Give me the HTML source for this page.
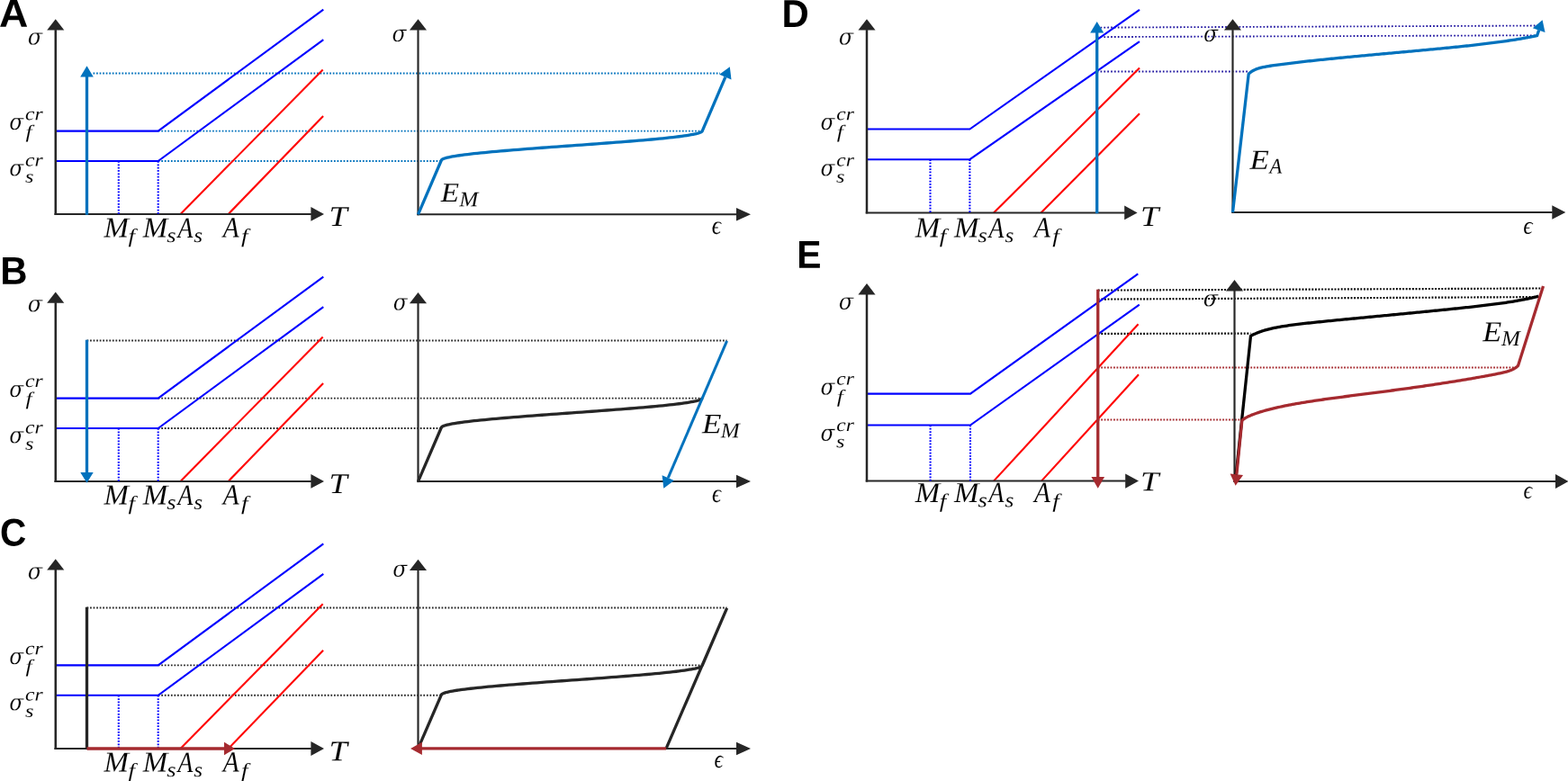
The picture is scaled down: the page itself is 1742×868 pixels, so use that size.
<!DOCTYPE html>
<html lang="en"><head><meta charset="utf-8"><title>Figure</title>
<style>html,body{margin:0;padding:0;background:#fff;}body{width:1742px;height:868px;overflow:hidden;}svg{display:block;}</style>
</head><body>
<svg width="1742" height="868" viewBox="0 0 1742 868">
<rect width="1742" height="868" fill="#fff"/>
<g>
<line x1="103.5" y1="81.45" x2="800" y2="81.45" stroke="#0072bd" stroke-width="1.9" stroke-dasharray="1.75 1.8"/>
<line x1="175.7" y1="145.6" x2="780.2" y2="145.6" stroke="#0072bd" stroke-width="1.9" stroke-dasharray="1.75 1.8"/>
<line x1="175.7" y1="179.05" x2="490.4" y2="179.05" stroke="#0072bd" stroke-width="1.9" stroke-dasharray="1.75 1.8"/>
<line x1="96.5" y1="378.45" x2="807.6" y2="378.45" stroke="#262626" stroke-width="1.9" stroke-dasharray="1.75 1.8"/>
<line x1="175.7" y1="442.6" x2="780.2" y2="442.6" stroke="#262626" stroke-width="1.9" stroke-dasharray="1.75 1.8"/>
<line x1="175.7" y1="476.05" x2="490.4" y2="476.05" stroke="#262626" stroke-width="1.9" stroke-dasharray="1.75 1.8"/>
<line x1="96.5" y1="675.55" x2="807.6" y2="675.55" stroke="#262626" stroke-width="1.9" stroke-dasharray="1.75 1.8"/>
<line x1="175.7" y1="739.35" x2="780.2" y2="739.35" stroke="#262626" stroke-width="1.9" stroke-dasharray="1.75 1.8"/>
<line x1="175.7" y1="772.8" x2="490.4" y2="772.8" stroke="#262626" stroke-width="1.9" stroke-dasharray="1.75 1.8"/>
<line x1="1218.7" y1="30.6" x2="1712" y2="28.5" stroke="#1f14a0" stroke-width="1.85" stroke-dasharray="1.7 2.15"/>
<line x1="1218.7" y1="41.1" x2="1705.5" y2="39.3" stroke="#1f14a0" stroke-width="1.85" stroke-dasharray="1.7 2.15"/>
<line x1="1218.7" y1="79.5" x2="1387.2" y2="79.5" stroke="#1f14a0" stroke-width="1.85" stroke-dasharray="1.7 2.15"/>
<line x1="1219.75" y1="322.6" x2="1712" y2="320.5" stroke="#000000" stroke-width="2.15" stroke-dasharray="1.9 1.7"/>
<line x1="1219.75" y1="332.6" x2="1705.5" y2="330.1" stroke="#000000" stroke-width="2.15" stroke-dasharray="1.9 1.7"/>
<line x1="1219.75" y1="370.9" x2="1389.5" y2="370.6" stroke="#000000" stroke-width="2.15" stroke-dasharray="1.9 1.7"/>
<line x1="1219.75" y1="408.4" x2="1683" y2="408.5" stroke="#a52a2f" stroke-width="2.0" stroke-dasharray="1.8 1.66"/>
<line x1="1219.75" y1="466.4" x2="1379.85" y2="466.5" stroke="#a52a2f" stroke-width="2.0" stroke-dasharray="1.8 1.66"/>
</g>
<g>
<path d="M61.75 145.6 L175.7 145.6 L359.3 10.7" fill="none" stroke="#0000ff" stroke-width="2.1" stroke-linejoin="miter"/>
<path d="M61.75 179.05 L175.7 179.05 L359.3 44.1" fill="none" stroke="#0000ff" stroke-width="2.1" stroke-linejoin="miter"/>
<line x1="200.5" y1="237.9" x2="358.7" y2="77.4" stroke="#ff0000" stroke-width="2.1"/>
<line x1="253.7" y1="237.9" x2="359.1" y2="129" stroke="#ff0000" stroke-width="2.1"/>
<path d="M61.75 442.6 L175.7 442.6 L359.3 307.7" fill="none" stroke="#0000ff" stroke-width="2.1" stroke-linejoin="miter"/>
<path d="M61.75 476.05 L175.7 476.05 L359.3 341.1" fill="none" stroke="#0000ff" stroke-width="2.1" stroke-linejoin="miter"/>
<line x1="200.5" y1="534.9" x2="358.7" y2="374.4" stroke="#ff0000" stroke-width="2.1"/>
<line x1="253.7" y1="534.9" x2="359.1" y2="426" stroke="#ff0000" stroke-width="2.1"/>
<path d="M61.75 739.35 L175.7 739.35 L359.3 604.45" fill="none" stroke="#0000ff" stroke-width="2.1" stroke-linejoin="miter"/>
<path d="M61.75 772.8 L175.7 772.8 L359.3 637.85" fill="none" stroke="#0000ff" stroke-width="2.1" stroke-linejoin="miter"/>
<line x1="200.5" y1="832" x2="358.7" y2="671.15" stroke="#ff0000" stroke-width="2.1"/>
<line x1="253.7" y1="832" x2="359.1" y2="722.75" stroke="#ff0000" stroke-width="2.1"/>
<path d="M963 143.5 L1077.4 143.5 L1266 10.9" fill="none" stroke="#0000ff" stroke-width="2.1" stroke-linejoin="miter"/>
<path d="M963 177.2 L1077.4 177.2 L1266 46.1" fill="none" stroke="#0000ff" stroke-width="2.1" stroke-linejoin="miter"/>
<line x1="1104" y1="236.4" x2="1266" y2="75.5" stroke="#ff0000" stroke-width="2.1"/>
<line x1="1156.5" y1="236.4" x2="1266" y2="126.3" stroke="#ff0000" stroke-width="2.1"/>
<path d="M963 437.6 L1078 437.6 L1264.3 304.4" fill="none" stroke="#0000ff" stroke-width="2.1" stroke-linejoin="miter"/>
<path d="M963 472.5 L1078 472.5 L1265.8 338.6" fill="none" stroke="#0000ff" stroke-width="2.1" stroke-linejoin="miter"/>
<line x1="1104" y1="534.6" x2="1264.6" y2="360.3" stroke="#ff0000" stroke-width="2.1"/>
<line x1="1157" y1="534.6" x2="1265" y2="416.3" stroke="#ff0000" stroke-width="2.1"/>
</g>
<g>
<line x1="61.75" y1="33.1" x2="61.75" y2="238.9" stroke="#262626" stroke-width="2.5"/>
<line x1="60.5" y1="237.9" x2="345.9" y2="237.9" stroke="#262626" stroke-width="2.0"/>
<polygon points="61.75,21.3 52.2,33.6 71.3,33.6" fill="#262626"/>
<polygon points="360,237.9 345.4,230 345.4,245.8" fill="#262626"/>
<line x1="464.5" y1="33.1" x2="464.5" y2="239.3" stroke="#262626" stroke-width="2.15"/>
<line x1="463.43" y1="238.3" x2="818.5" y2="238.3" stroke="#262626" stroke-width="2.0"/>
<polygon points="464.5,21.3 454.95,33.6 474.05,33.6" fill="#262626"/>
<polygon points="834,238.3 818,231.05 818,245.55" fill="#262626"/>
<line x1="61.75" y1="336.2" x2="61.75" y2="535.9" stroke="#262626" stroke-width="2.5"/>
<line x1="60.5" y1="534.9" x2="345.9" y2="534.9" stroke="#262626" stroke-width="2.0"/>
<polygon points="61.75,324.4 52.2,336.7 71.3,336.7" fill="#262626"/>
<polygon points="360,534.9 345.4,527 345.4,542.8" fill="#262626"/>
<line x1="464.5" y1="336.7" x2="464.5" y2="536.1" stroke="#262626" stroke-width="2.15"/>
<line x1="463.43" y1="535.1" x2="818.5" y2="535.1" stroke="#262626" stroke-width="2.0"/>
<polygon points="464.5,324.9 454.95,337.2 474.05,337.2" fill="#262626"/>
<polygon points="834,535.1 818,527.85 818,542.35" fill="#262626"/>
<line x1="61.75" y1="633" x2="61.75" y2="833" stroke="#262626" stroke-width="2.5"/>
<line x1="60.5" y1="832" x2="345.9" y2="832" stroke="#262626" stroke-width="2.0"/>
<polygon points="61.75,621.2 52.2,633.5 71.3,633.5" fill="#262626"/>
<polygon points="360,832 345.4,824.1 345.4,839.9" fill="#262626"/>
<line x1="464.5" y1="633.6" x2="464.5" y2="832.95" stroke="#262626" stroke-width="2.15"/>
<line x1="463.43" y1="831.95" x2="818.5" y2="831.95" stroke="#262626" stroke-width="2.0"/>
<polygon points="464.5,621.8 454.95,634.1 474.05,634.1" fill="#262626"/>
<polygon points="834,831.95 818,824.7 818,839.2" fill="#262626"/>
<line x1="963" y1="33.1" x2="963" y2="237.4" stroke="#262626" stroke-width="2.5"/>
<line x1="961.75" y1="236.4" x2="1249.7" y2="236.4" stroke="#262626" stroke-width="2.0"/>
<polygon points="963,21.3 953.45,33.6 972.55,33.6" fill="#262626"/>
<polygon points="1263.6,236.4 1249.2,228.5 1249.2,244.3" fill="#262626"/>
<line x1="1369.5" y1="33.1" x2="1369.5" y2="237" stroke="#262626" stroke-width="2.15"/>
<line x1="1368.42" y1="236" x2="1724.8" y2="236" stroke="#262626" stroke-width="2.0"/>
<polygon points="1369.5,21.3 1359.95,33.6 1379.05,33.6" fill="#262626"/>
<polygon points="1739.3,236 1724.3,228.25 1724.3,243.75" fill="#262626"/>
<line x1="963" y1="326.9" x2="963" y2="535.6" stroke="#262626" stroke-width="2.5"/>
<line x1="961.75" y1="534.6" x2="1250.7" y2="534.6" stroke="#262626" stroke-width="2.0"/>
<polygon points="963,315.1 953.45,327.4 972.55,327.4" fill="#262626"/>
<polygon points="1265,534.6 1250.2,526.4 1250.2,542.8" fill="#262626"/>
<line x1="1371.5" y1="322.9" x2="1371.5" y2="536.05" stroke="#262626" stroke-width="2.15"/>
<line x1="1370.42" y1="535.05" x2="1728.5" y2="535.05" stroke="#262626" stroke-width="2.0"/>
<polygon points="1371.5,311.1 1361.95,323.4 1381.05,323.4" fill="#262626"/>
<polygon points="1742.5,535.05 1728,527.05 1728,543.05" fill="#262626"/>
</g>
<g>
<line x1="131.8" y1="179.05" x2="131.8" y2="238.2" stroke="#0000ff" stroke-width="2.1" stroke-dasharray="1.75 1.6"/>
<line x1="175.7" y1="179.05" x2="175.7" y2="238.2" stroke="#0000ff" stroke-width="2.1" stroke-dasharray="1.75 1.6"/>
<line x1="131.8" y1="476.05" x2="131.8" y2="535.2" stroke="#0000ff" stroke-width="2.1" stroke-dasharray="1.75 1.6"/>
<line x1="175.7" y1="476.05" x2="175.7" y2="535.2" stroke="#0000ff" stroke-width="2.1" stroke-dasharray="1.75 1.6"/>
<line x1="131.8" y1="772.8" x2="131.8" y2="832.3" stroke="#0000ff" stroke-width="2.1" stroke-dasharray="1.75 1.6"/>
<line x1="175.7" y1="772.8" x2="175.7" y2="832.3" stroke="#0000ff" stroke-width="2.1" stroke-dasharray="1.75 1.6"/>
<line x1="1033.5" y1="177.2" x2="1033.5" y2="236.7" stroke="#0000ff" stroke-width="2.1" stroke-dasharray="1.75 1.6"/>
<line x1="1077.4" y1="177.2" x2="1077.4" y2="236.7" stroke="#0000ff" stroke-width="2.1" stroke-dasharray="1.75 1.6"/>
<line x1="1033.6" y1="472.5" x2="1033.6" y2="534.9" stroke="#0000ff" stroke-width="2.1" stroke-dasharray="1.75 1.6"/>
<line x1="1078" y1="472.5" x2="1078" y2="534.9" stroke="#0000ff" stroke-width="2.1" stroke-dasharray="1.75 1.6"/>
</g>
<g>
<line x1="96.5" y1="238.7" x2="96.5" y2="85" stroke="#0072bd" stroke-width="3.3"/>
<polygon points="96.5,73.2 89.2,85.5 103.8,85.5" fill="#0072bd"/>
<polygon points="810.8,74.2 812.53,88.55 799.21,82.82" fill="#0072bd"/>
<path d="M464.5 238.3 L490.4 178 L490.68 177.6 L491.17 177.19 L491.88 176.79 L492.79 176.38 L493.92 175.98 L495.25 175.58 L496.79 175.17 L498.54 174.77 L500.49 174.37 L502.64 173.96 L504.98 173.56 L507.52 173.16 L510.25 172.75 L513.16 172.35 L516.25 171.94 L519.52 171.54 L522.97 171.14 L526.58 170.73 L530.35 170.33 L534.28 169.93 L538.36 169.52 L542.58 169.12 L546.94 168.71 L551.43 168.31 L556.05 167.91 L560.79 167.5 L565.63 167.1 L570.58 166.69 L575.63 166.29 L580.77 165.89 L585.99 165.48 L591.28 165.08 L596.64 164.68 L602.05 164.27 L607.52 163.87 L613.02 163.46 L618.56 163.06 L624.13 162.66 L629.71 162.25 L635.3 161.85 L640.89 161.45 L646.47 161.04 L652.04 160.64 L657.58 160.23 L663.08 159.83 L668.55 159.43 L673.96 159.02 L679.32 158.62 L684.61 158.22 L689.83 157.81 L694.97 157.41 L700.02 157 L704.97 156.6 L709.81 156.2 L714.55 155.79 L719.17 155.39 L723.66 154.99 L728.02 154.58 L732.24 154.18 L736.32 153.77 L740.25 153.37 L744.02 152.97 L747.63 152.56 L751.08 152.16 L754.35 151.76 L757.44 151.35 L760.35 150.95 L763.08 150.54 L765.62 150.14 L767.96 149.74 L770.11 149.33 L772.06 148.93 L773.81 148.53 L775.35 148.12 L776.68 147.72 L777.81 147.31 L778.72 146.91 L779.43 146.51 L779.92 146.1 L780.2 145.7 L805.87 85.69" fill="none" stroke="#0072bd" stroke-width="3.3" stroke-linejoin="round"/>
<path d="M464.5 535.1 L490.4 475 L490.68 474.6 L491.17 474.19 L491.88 473.79 L492.79 473.38 L493.92 472.98 L495.26 472.58 L496.8 472.17 L498.54 471.77 L500.49 471.37 L502.64 470.96 L504.98 470.56 L507.52 470.15 L510.25 469.75 L513.16 469.35 L516.26 468.94 L519.53 468.54 L522.97 468.14 L526.58 467.73 L530.35 467.33 L534.28 466.93 L538.36 466.52 L542.58 466.12 L546.94 465.71 L551.44 465.31 L556.05 464.91 L560.79 464.5 L565.64 464.1 L570.59 463.69 L575.64 463.29 L580.77 462.89 L585.99 462.48 L591.28 462.08 L596.64 461.68 L602.05 461.27 L607.52 460.87 L613.03 460.46 L618.56 460.06 L624.13 459.66 L629.71 459.25 L635.3 458.85 L640.89 458.45 L646.47 458.04 L652.04 457.64 L657.57 457.24 L663.08 456.83 L668.55 456.43 L673.96 456.02 L679.32 455.62 L684.61 455.22 L689.83 454.81 L694.96 454.41 L700.01 454 L704.96 453.6 L709.81 453.2 L714.55 452.79 L719.16 452.39 L723.66 451.99 L728.02 451.58 L732.24 451.18 L736.32 450.77 L740.25 450.37 L744.02 449.97 L747.63 449.56 L751.07 449.16 L754.34 448.76 L757.44 448.35 L760.35 447.95 L763.08 447.54 L765.62 447.14 L767.96 446.74 L770.11 446.33 L772.06 445.93 L773.8 445.53 L775.34 445.12 L776.68 444.72 L777.81 444.31 L778.72 443.91 L779.43 443.51 L779.92 443.1 L780.2 442.7" fill="none" stroke="#262626" stroke-width="3.3" stroke-linejoin="round"/>
<line x1="96.5" y1="377.65" x2="96.5" y2="525.9" stroke="#0072bd" stroke-width="3.3"/>
<polygon points="96.5,536.7 89.3,524.9 103.7,524.9" fill="#0072bd"/>
<polygon points="737.3,542.7 735.57,528.35 748.89,534.07" fill="#0072bd"/>
<path d="M807.6 378.85 L742.23 531.21" fill="none" stroke="#0072bd" stroke-width="3.0" stroke-linejoin="round"/>
<path d="M464.5 831.95 L490.4 772.1 L490.68 771.7 L491.17 771.29 L491.88 770.89 L492.8 770.49 L493.92 770.08 L495.26 769.68 L496.8 769.27 L498.55 768.87 L500.5 768.47 L502.65 768.06 L504.99 767.66 L507.53 767.25 L510.26 766.85 L513.17 766.45 L516.26 766.04 L519.53 765.64 L522.98 765.24 L526.59 764.83 L530.36 764.43 L534.29 764.02 L538.37 763.62 L542.59 763.22 L546.95 762.81 L551.44 762.41 L556.06 762.01 L560.8 761.6 L565.64 761.2 L570.59 760.79 L575.64 760.39 L580.78 759.99 L585.99 759.58 L591.29 759.18 L596.64 758.78 L602.06 758.37 L607.52 757.97 L613.03 757.57 L618.57 757.16 L624.13 756.76 L629.71 756.35 L635.3 755.95 L640.89 755.55 L646.47 755.14 L652.03 754.74 L657.57 754.34 L663.08 753.93 L668.54 753.53 L673.96 753.12 L679.31 752.72 L684.61 752.32 L689.82 751.91 L694.96 751.51 L700.01 751.11 L704.96 750.7 L709.8 750.3 L714.54 749.89 L719.16 749.49 L723.65 749.09 L728.01 748.68 L732.23 748.28 L736.31 747.88 L740.24 747.47 L744.01 747.07 L747.62 746.66 L751.07 746.26 L754.34 745.86 L757.43 745.45 L760.34 745.05 L763.07 744.64 L765.61 744.24 L767.95 743.84 L770.1 743.43 L772.05 743.03 L773.8 742.63 L775.34 742.22 L776.68 741.82 L777.8 741.41 L778.72 741.01 L779.43 740.61 L779.92 740.2 L780.2 739.8 L807.6 675.95 L740.09 831.95" fill="none" stroke="#262626" stroke-width="3.3" stroke-linejoin="miter"/>
<line x1="96.5" y1="832.8" x2="96.5" y2="674.75" stroke="#262626" stroke-width="3.3"/>
<line x1="96.5" y1="832" x2="250" y2="832" stroke="#a52a2f" stroke-width="3.3"/>
<polygon points="261,832 249,824.8 249,839.2" fill="#a52a2f"/>
<line x1="740.09" y1="831.95" x2="468" y2="831.95" stroke="#a52a2f" stroke-width="3.3"/>
<polygon points="456.1,831.95 468.9,824.85 468.9,839.05" fill="#a52a2f"/>
<line x1="1218.7" y1="237.2" x2="1218.7" y2="36" stroke="#0072bd" stroke-width="3.3"/>
<polygon points="1218.7,24 1211.2,36.6 1226.2,36.6" fill="#0072bd"/>
<polygon points="1713.6,22.2 1716.54,35.91 1702.83,31.18" fill="#0072bd"/>
<path d="M1369.5 236 L1387.2 82.2 L1387.7 81.71 L1388.2 81.25 L1388.7 80.82 L1389.2 80.42 L1389.2 80.42 L1389.7 80.04 L1390.2 79.68 L1390.7 79.34 L1391.2 79.03 L1391.21 79.02 L1391.7 78.73 L1392.2 78.44 L1392.7 78.18 L1393.2 77.92 L1393.21 77.92 L1393.7 77.68 L1394.2 77.46 L1394.7 77.24 L1395.2 77.04 L1395.21 77.03 L1395.7 76.84 L1396.2 76.65 L1396.7 76.48 L1397.2 76.31 L1397.21 76.3 L1397.7 76.14 L1398.2 75.99 L1398.7 75.84 L1399.2 75.7 L1399.22 75.69 L1401.22 75.17 L1403.22 74.71 L1405.22 74.3 L1407.23 73.92 L1409.23 73.58 L1411.23 73.25 L1413.23 72.94 L1415.24 72.65 L1417.24 72.36 L1419.24 72.09 L1421.24 71.82 L1423.25 71.55 L1425.25 71.29 L1427.25 71.04 L1429.25 70.79 L1431.26 70.54 L1433.26 70.29 L1435.26 70.05 L1437.26 69.81 L1439.27 69.58 L1441.27 69.34 L1443.27 69.11 L1445.27 68.88 L1447.28 68.65 L1449.28 68.43 L1451.28 68.2 L1453.28 67.98 L1455.29 67.76 L1457.29 67.55 L1459.29 67.33 L1461.29 67.11 L1463.3 66.9 L1465.3 66.69 L1467.3 66.48 L1469.3 66.27 L1471.31 66.06 L1473.31 65.86 L1475.31 65.65 L1477.31 65.45 L1479.32 65.25 L1481.32 65.05 L1483.32 64.85 L1485.32 64.65 L1487.33 64.45 L1489.33 64.26 L1491.33 64.06 L1493.33 63.87 L1495.34 63.67 L1497.34 63.48 L1499.34 63.29 L1501.34 63.1 L1503.35 62.91 L1505.35 62.72 L1507.35 62.53 L1509.35 62.34 L1511.36 62.15 L1513.36 61.96 L1515.36 61.78 L1517.36 61.59 L1519.37 61.41 L1521.37 61.22 L1523.37 61.04 L1525.37 60.85 L1527.38 60.67 L1529.38 60.48 L1531.38 60.3 L1533.38 60.12 L1535.38 59.94 L1537.39 59.75 L1539.39 59.57 L1541.39 59.39 L1543.39 59.21 L1545.4 59.02 L1547.4 58.84 L1549.4 58.66 L1551.4 58.48 L1553.41 58.3 L1555.41 58.12 L1557.41 57.93 L1559.41 57.75 L1561.42 57.57 L1563.42 57.39 L1565.42 57.21 L1567.42 57.02 L1569.43 56.84 L1571.43 56.66 L1573.43 56.47 L1575.43 56.29 L1577.44 56.1 L1579.44 55.92 L1581.44 55.73 L1583.44 55.55 L1585.45 55.36 L1587.45 55.17 L1589.45 54.98 L1591.45 54.79 L1593.46 54.61 L1595.46 54.41 L1597.46 54.22 L1599.46 54.03 L1601.47 53.84 L1603.47 53.64 L1605.47 53.45 L1607.47 53.25 L1609.48 53.05 L1611.48 52.85 L1613.48 52.65 L1615.48 52.45 L1617.49 52.25 L1619.49 52.04 L1621.49 51.84 L1623.49 51.63 L1625.5 51.42 L1627.5 51.2 L1629.5 50.99 L1631.5 50.77 L1633.51 50.55 L1635.51 50.33 L1637.51 50.11 L1639.51 49.88 L1641.52 49.66 L1643.52 49.43 L1645.52 49.19 L1647.52 48.96 L1649.53 48.72 L1651.53 48.47 L1653.53 48.23 L1655.53 47.98 L1657.54 47.72 L1659.54 47.46 L1661.54 47.2 L1663.54 46.94 L1665.55 46.67 L1667.55 46.39 L1669.55 46.12 L1671.55 45.83 L1673.56 45.54 L1675.56 45.25 L1677.56 44.95 L1679.56 44.64 L1681.57 44.33 L1683.57 44.01 L1685.57 43.69 L1687.57 43.36 L1689.58 43.02 L1691.58 42.68 L1693.58 42.32 L1695.59 41.96 L1695.6 41.96 L1696.1 41.87 L1696.6 41.78 L1697.1 41.68 L1697.59 41.59 L1697.6 41.59 L1698.1 41.5 L1698.6 41.4 L1699.1 41.31 L1699.59 41.22 L1699.6 41.21 L1700.1 41.12 L1700.6 41.02 L1701.1 40.93 L1701.59 40.83 L1701.6 40.83 L1702.1 40.73 L1702.6 40.63 L1703.1 40.53 L1703.59 40.43 L1703.6 40.43 L1704.1 40.33 L1704.6 40.23 L1705.1 40.13 L1705.6 40.03 L1705.6 40.03 L1706.1 39.92 L1706.6 39.82 L1707.1 39.72 L1707.6 39.61 L1709.69 33.54" fill="none" stroke="#0072bd" stroke-width="3.3" stroke-linejoin="round"/>
<line x1="1219.75" y1="321.7" x2="1219.75" y2="531" stroke="#a52a2f" stroke-width="3.3"/>
<polygon points="1219.75,542.8 1212.45,530.1 1227.05,530.1" fill="#a52a2f"/>
<path d="M1372.4 535.05 L1389.5 373.39 L1390 373.12 L1390.5 372.85 L1391 372.59 L1391.5 372.34 L1391.51 372.33 L1392 372.09 L1392.5 371.84 L1393 371.6 L1393.5 371.37 L1393.52 371.36 L1394 371.14 L1394.5 370.91 L1395 370.69 L1395.5 370.48 L1395.53 370.46 L1396 370.27 L1396.5 370.06 L1397 369.86 L1397.5 369.66 L1397.55 369.64 L1398 369.46 L1398.5 369.27 L1399 369.09 L1399.5 368.9 L1399.56 368.88 L1400 368.72 L1400.5 368.55 L1401 368.37 L1401.5 368.2 L1401.57 368.18 L1403.58 367.53 L1405.59 366.93 L1407.6 366.37 L1409.61 365.85 L1411.62 365.36 L1413.64 364.9 L1415.65 364.47 L1417.66 364.07 L1419.67 363.68 L1421.68 363.32 L1423.69 362.97 L1425.7 362.64 L1427.72 362.33 L1429.73 362.02 L1431.74 361.73 L1433.75 361.45 L1435.76 361.17 L1437.77 360.91 L1439.78 360.65 L1441.79 360.4 L1443.81 360.16 L1445.82 359.92 L1447.83 359.69 L1449.84 359.46 L1451.85 359.23 L1453.86 359.01 L1455.87 358.79 L1457.88 358.58 L1459.9 358.36 L1461.91 358.15 L1463.92 357.94 L1465.93 357.74 L1467.94 357.53 L1469.95 357.33 L1471.96 357.13 L1473.98 356.92 L1475.99 356.72 L1478 356.52 L1480.01 356.33 L1482.02 356.13 L1484.03 355.93 L1486.04 355.73 L1488.05 355.54 L1490.07 355.34 L1492.08 355.15 L1494.09 354.95 L1496.1 354.76 L1498.11 354.57 L1500.12 354.37 L1502.13 354.18 L1504.15 353.99 L1506.16 353.79 L1508.17 353.6 L1510.18 353.41 L1512.19 353.21 L1514.2 353.02 L1516.21 352.83 L1518.22 352.64 L1520.24 352.44 L1522.25 352.25 L1524.26 352.06 L1526.27 351.87 L1528.28 351.68 L1530.29 351.48 L1532.3 351.29 L1534.32 351.1 L1536.33 350.91 L1538.34 350.71 L1540.35 350.52 L1542.36 350.33 L1544.37 350.14 L1546.38 349.94 L1548.39 349.75 L1550.41 349.56 L1552.42 349.36 L1554.43 349.17 L1556.44 348.98 L1558.45 348.78 L1560.46 348.59 L1562.47 348.4 L1564.48 348.2 L1566.5 348.01 L1568.51 347.81 L1570.52 347.62 L1572.53 347.42 L1574.54 347.23 L1576.55 347.03 L1578.56 346.84 L1580.58 346.64 L1582.59 346.44 L1584.6 346.25 L1586.61 346.05 L1588.62 345.85 L1590.63 345.65 L1592.64 345.45 L1594.65 345.25 L1596.67 345.05 L1598.68 344.85 L1600.69 344.65 L1602.7 344.45 L1604.71 344.25 L1606.72 344.04 L1608.73 343.84 L1610.75 343.63 L1612.76 343.43 L1614.77 343.22 L1616.78 343.01 L1618.79 342.8 L1620.8 342.59 L1622.81 342.38 L1624.82 342.17 L1626.84 341.95 L1628.85 341.73 L1630.86 341.52 L1632.87 341.3 L1634.88 341.07 L1636.89 340.85 L1638.9 340.62 L1640.92 340.39 L1642.93 340.16 L1644.94 339.93 L1646.95 339.69 L1648.96 339.45 L1650.97 339.21 L1652.98 338.96 L1654.99 338.71 L1657.01 338.46 L1659.02 338.2 L1661.03 337.94 L1663.04 337.67 L1665.05 337.4 L1667.06 337.13 L1669.07 336.84 L1671.08 336.55 L1673.1 336.26 L1675.11 335.96 L1677.12 335.65 L1679.13 335.33 L1681.14 335.01 L1683.15 334.67 L1685.16 334.33 L1687.18 333.98 L1689.19 333.61 L1691.2 333.24 L1693.21 332.85 L1695.22 332.45 L1697.23 332.04 L1697.3 332.02 L1697.8 331.92 L1698.3 331.81 L1698.8 331.7 L1699.24 331.61 L1699.3 331.6 L1699.8 331.49 L1700.3 331.38 L1700.8 331.27 L1701.25 331.17 L1701.3 331.16 L1701.8 331.04 L1702.3 330.93 L1702.8 330.81 L1703.27 330.71 L1703.3 330.7 L1703.8 330.58 L1704.3 330.46 L1704.8 330.34 L1705.28 330.23 L1705.3 330.22 L1705.8 330.1 L1706.3 329.98 L1706.8 329.85 L1707.29 329.73 L1707.3 329.73 L1707.8 329.6 L1708.3 329.48 L1708.8 329.35 L1709.3 329.22" fill="none" stroke="#000000" stroke-width="3.3" stroke-linejoin="round"/>
<polygon points="1372.6,539.7 1366.63,526.54 1381.06,527.98" fill="#a52a2f"/>
<path d="M1714.5 318 L1686.6 406.3 L1686.1 406.8 L1685.6 407.26 L1685.1 407.69 L1684.6 408.09 L1684.6 408.1 L1684.1 408.47 L1683.6 408.82 L1683.1 409.15 L1682.6 409.47 L1682.59 409.47 L1682.1 409.76 L1681.6 410.04 L1681.1 410.3 L1680.6 410.55 L1680.59 410.56 L1680.1 410.79 L1679.6 411.01 L1679.1 411.23 L1678.6 411.43 L1678.58 411.44 L1678.1 411.63 L1677.6 411.81 L1677.1 411.99 L1676.6 412.17 L1676.58 412.17 L1676.1 412.33 L1675.6 412.49 L1675.1 412.65 L1674.6 412.8 L1674.57 412.81 L1672.57 413.37 L1670.56 413.87 L1668.56 414.34 L1666.55 414.79 L1664.55 415.21 L1662.54 415.62 L1660.54 416.02 L1658.53 416.41 L1656.53 416.79 L1654.52 417.17 L1652.52 417.54 L1650.51 417.91 L1648.51 418.28 L1646.5 418.64 L1644.5 419 L1642.49 419.36 L1640.49 419.71 L1638.48 420.06 L1636.48 420.41 L1634.47 420.76 L1632.47 421.1 L1630.46 421.44 L1628.46 421.78 L1626.45 422.12 L1624.45 422.45 L1622.44 422.79 L1620.44 423.12 L1618.43 423.44 L1616.43 423.77 L1614.42 424.09 L1612.42 424.42 L1610.41 424.74 L1608.41 425.05 L1606.4 425.37 L1604.4 425.68 L1602.39 425.99 L1600.39 426.3 L1598.38 426.61 L1596.38 426.92 L1594.37 427.22 L1592.37 427.52 L1590.36 427.82 L1588.36 428.12 L1586.35 428.41 L1584.35 428.71 L1582.35 429 L1580.34 429.29 L1578.34 429.58 L1576.33 429.87 L1574.33 430.16 L1572.32 430.44 L1570.32 430.72 L1568.31 431 L1566.31 431.28 L1564.3 431.56 L1562.3 431.84 L1560.29 432.11 L1558.29 432.39 L1556.28 432.66 L1554.28 432.93 L1552.27 433.2 L1550.27 433.47 L1548.26 433.74 L1546.26 434.01 L1544.25 434.27 L1542.25 434.54 L1540.24 434.8 L1538.24 435.07 L1536.23 435.33 L1534.23 435.59 L1532.22 435.85 L1530.22 436.11 L1528.21 436.37 L1526.21 436.63 L1524.2 436.89 L1522.2 437.14 L1520.19 437.4 L1518.19 437.66 L1516.18 437.92 L1514.18 438.17 L1512.17 438.43 L1510.17 438.69 L1508.16 438.95 L1506.16 439.2 L1504.15 439.46 L1502.15 439.72 L1500.14 439.98 L1498.14 440.24 L1496.13 440.5 L1494.13 440.76 L1492.12 441.02 L1490.12 441.28 L1488.11 441.55 L1486.11 441.81 L1484.1 442.08 L1482.1 442.35 L1480.1 442.62 L1478.09 442.89 L1476.09 443.16 L1474.08 443.44 L1472.08 443.72 L1470.07 444 L1468.07 444.29 L1466.06 444.58 L1464.06 444.87 L1462.05 445.16 L1460.05 445.46 L1458.04 445.76 L1456.04 446.07 L1454.03 446.38 L1452.03 446.7 L1450.02 447.02 L1448.02 447.34 L1446.01 447.68 L1444.01 448.02 L1442 448.36 L1440 448.71 L1437.99 449.07 L1435.99 449.44 L1433.98 449.81 L1431.98 450.19 L1429.97 450.58 L1427.97 450.98 L1425.96 451.39 L1423.96 451.81 L1421.95 452.24 L1419.95 452.69 L1417.94 453.14 L1415.94 453.61 L1413.93 454.09 L1411.93 454.59 L1409.92 455.1 L1407.92 455.63 L1405.91 456.17 L1403.91 456.74 L1401.9 457.32 L1399.9 457.93 L1397.89 458.57 L1395.89 459.24 L1393.88 459.94 L1391.88 460.69 L1391.85 460.7 L1391.35 460.9 L1390.85 461.1 L1390.35 461.3 L1389.87 461.5 L1389.85 461.51 L1389.35 461.72 L1388.85 461.94 L1388.35 462.16 L1387.87 462.38 L1387.85 462.39 L1387.35 462.62 L1386.85 462.86 L1386.35 463.11 L1385.86 463.35 L1385.85 463.36 L1385.35 463.62 L1384.85 463.89 L1384.35 464.16 L1383.86 464.45 L1383.85 464.45 L1383.35 464.75 L1382.85 465.06 L1382.35 465.38 L1381.85 465.71 L1381.85 465.71 L1381.35 466.06 L1380.85 466.42 L1380.35 466.8 L1379.85 467.2 L1373.84 527.26" fill="none" stroke="#a52a2f" stroke-width="3.3" stroke-linejoin="round"/>
</g>
<g>
<text transform="translate(30.65 49.44) rotate(0.03) scale(0.944 1)" font-size="25.32" font-family="'DejaVu Serif', 'Liberation Serif', serif" font-style="italic" fill="#000" stroke="#fff" stroke-width="0.21">σ</text>
<text transform="translate(10.18 144.05) rotate(0.03) scale(0.928 1)" font-size="24.94" font-family="'DejaVu Serif', 'Liberation Serif', serif" font-style="italic" fill="#000" stroke="#fff" stroke-width="0.22">σ</text>
<text transform="translate(28.07 133.2) rotate(0.03) scale(1.158 1)" font-size="20.38" font-family="'Liberation Serif', serif" font-style="italic" fill="#000" stroke="#fff" stroke-width="0.07">cr</text>
<text transform="translate(28.54 153.19) rotate(0.03) scale(1.220 1)" font-size="20.72" font-family="'Liberation Serif', serif" font-style="italic" fill="#000" stroke="#fff" stroke-width="0.07">f</text>
<text transform="translate(10.18 195.35) rotate(0.03) scale(0.928 1)" font-size="24.94" font-family="'DejaVu Serif', 'Liberation Serif', serif" font-style="italic" fill="#000" stroke="#fff" stroke-width="0.22">σ</text>
<text transform="translate(28.07 184.5) rotate(0.03) scale(1.158 1)" font-size="20.38" font-family="'Liberation Serif', serif" font-style="italic" fill="#000" stroke="#fff" stroke-width="0.07">cr</text>
<text transform="translate(27.88 202.81) rotate(0.03) scale(1.220 1)" font-size="19.96" font-family="'Liberation Serif', serif" font-style="italic" fill="#000" stroke="#fff" stroke-width="0.07">s</text>
<text transform="translate(115.59 263.6) rotate(0.03) scale(1.034 1)" font-size="31.92" font-family="'Liberation Serif', serif" font-style="italic" fill="#000" stroke="#fff" stroke-width="0.08">M</text>
<text transform="translate(142.59 269.59) rotate(0.03) scale(1.220 1)" font-size="22.14" font-family="'Liberation Serif', serif" font-style="italic" fill="#000" stroke="#fff" stroke-width="0.07">f</text>
<text transform="translate(158.79 263.6) rotate(0.03) scale(1.034 1)" font-size="31.92" font-family="'Liberation Serif', serif" font-style="italic" fill="#000" stroke="#fff" stroke-width="0.08">M</text>
<text transform="translate(185.18 268.88) rotate(0.03) scale(1.171 1)" font-size="22.66" font-family="'Liberation Serif', serif" font-style="italic" fill="#000" stroke="#fff" stroke-width="0.07">s</text>
<text transform="translate(197.41 263.6) rotate(0.03) scale(0.853 1)" font-size="32.42" font-family="'Liberation Serif', serif" font-style="italic" fill="#000" stroke="#fff" stroke-width="0.09">A</text>
<text transform="translate(215.29 268.88) rotate(0.03) scale(1.120 1)" font-size="22.66" font-family="'Liberation Serif', serif" font-style="italic" fill="#000" stroke="#fff" stroke-width="0.07">s</text>
<text transform="translate(247.7 263.6) rotate(0.03) scale(0.904 1)" font-size="32.42" font-family="'Liberation Serif', serif" font-style="italic" fill="#000" stroke="#fff" stroke-width="0.09">A</text>
<text transform="translate(267.99 269.59) rotate(0.03) scale(1.220 1)" font-size="22.14" font-family="'Liberation Serif', serif" font-style="italic" fill="#000" stroke="#fff" stroke-width="0.07">f</text>
<text transform="translate(365.61 251.1) rotate(0.03) scale(1.145 1)" font-size="31.92" font-family="'Liberation Serif', serif" font-style="italic" fill="#000" stroke="#fff" stroke-width="0.07">T</text>
<text transform="translate(435.57 46.04) rotate(0.03) scale(0.919 1)" font-size="25.51" font-family="'DejaVu Serif', 'Liberation Serif', serif" font-style="italic" fill="#000" stroke="#fff" stroke-width="0.22">σ</text>
<text transform="translate(790.84 259.86) rotate(0.03) scale(0.864 1)" font-size="29.42" font-family="'Liberation Serif', serif" font-style="italic" fill="#000" stroke="#fff" stroke-width="0.09">ϵ</text>
<text transform="translate(489.69 224.1) rotate(0.03) scale(1.091 1)" font-size="30.39" font-family="'Liberation Serif', serif" font-style="italic" fill="#000" stroke="#fff" stroke-width="0.07">E</text>
<text transform="translate(510.3 229.3) rotate(0.03) scale(1.067 1)" font-size="23.67" font-family="'Liberation Serif', serif" font-style="italic" fill="#000" stroke="#fff" stroke-width="0.07">M</text>
<text transform="translate(30.65 346.34) rotate(0.03) scale(0.944 1)" font-size="25.32" font-family="'DejaVu Serif', 'Liberation Serif', serif" font-style="italic" fill="#000" stroke="#fff" stroke-width="0.21">σ</text>
<text transform="translate(10.18 440.95) rotate(0.03) scale(0.928 1)" font-size="24.94" font-family="'DejaVu Serif', 'Liberation Serif', serif" font-style="italic" fill="#000" stroke="#fff" stroke-width="0.22">σ</text>
<text transform="translate(28.07 430.1) rotate(0.03) scale(1.158 1)" font-size="20.38" font-family="'Liberation Serif', serif" font-style="italic" fill="#000" stroke="#fff" stroke-width="0.07">cr</text>
<text transform="translate(28.54 450.09) rotate(0.03) scale(1.220 1)" font-size="20.72" font-family="'Liberation Serif', serif" font-style="italic" fill="#000" stroke="#fff" stroke-width="0.07">f</text>
<text transform="translate(10.18 492.25) rotate(0.03) scale(0.928 1)" font-size="24.94" font-family="'DejaVu Serif', 'Liberation Serif', serif" font-style="italic" fill="#000" stroke="#fff" stroke-width="0.22">σ</text>
<text transform="translate(28.07 481.4) rotate(0.03) scale(1.158 1)" font-size="20.38" font-family="'Liberation Serif', serif" font-style="italic" fill="#000" stroke="#fff" stroke-width="0.07">cr</text>
<text transform="translate(27.88 499.71) rotate(0.03) scale(1.220 1)" font-size="19.96" font-family="'Liberation Serif', serif" font-style="italic" fill="#000" stroke="#fff" stroke-width="0.07">s</text>
<text transform="translate(115.59 560.5) rotate(0.03) scale(1.034 1)" font-size="31.92" font-family="'Liberation Serif', serif" font-style="italic" fill="#000" stroke="#fff" stroke-width="0.08">M</text>
<text transform="translate(142.59 566.49) rotate(0.03) scale(1.220 1)" font-size="22.14" font-family="'Liberation Serif', serif" font-style="italic" fill="#000" stroke="#fff" stroke-width="0.07">f</text>
<text transform="translate(158.79 560.5) rotate(0.03) scale(1.034 1)" font-size="31.92" font-family="'Liberation Serif', serif" font-style="italic" fill="#000" stroke="#fff" stroke-width="0.08">M</text>
<text transform="translate(185.18 565.78) rotate(0.03) scale(1.171 1)" font-size="22.66" font-family="'Liberation Serif', serif" font-style="italic" fill="#000" stroke="#fff" stroke-width="0.07">s</text>
<text transform="translate(197.41 560.5) rotate(0.03) scale(0.853 1)" font-size="32.42" font-family="'Liberation Serif', serif" font-style="italic" fill="#000" stroke="#fff" stroke-width="0.09">A</text>
<text transform="translate(215.29 565.78) rotate(0.03) scale(1.120 1)" font-size="22.66" font-family="'Liberation Serif', serif" font-style="italic" fill="#000" stroke="#fff" stroke-width="0.07">s</text>
<text transform="translate(247.7 560.5) rotate(0.03) scale(0.904 1)" font-size="32.42" font-family="'Liberation Serif', serif" font-style="italic" fill="#000" stroke="#fff" stroke-width="0.09">A</text>
<text transform="translate(267.99 566.49) rotate(0.03) scale(1.220 1)" font-size="22.14" font-family="'Liberation Serif', serif" font-style="italic" fill="#000" stroke="#fff" stroke-width="0.07">f</text>
<text transform="translate(365.61 548) rotate(0.03) scale(1.145 1)" font-size="31.92" font-family="'Liberation Serif', serif" font-style="italic" fill="#000" stroke="#fff" stroke-width="0.07">T</text>
<text transform="translate(436.68 344.54) rotate(0.03) scale(0.914 1)" font-size="25.32" font-family="'DejaVu Serif', 'Liberation Serif', serif" font-style="italic" fill="#000" stroke="#fff" stroke-width="0.22">σ</text>
<text transform="translate(791.06 557.91) rotate(0.03) scale(0.847 1)" font-size="29.42" font-family="'Liberation Serif', serif" font-style="italic" fill="#000" stroke="#fff" stroke-width="0.09">ϵ</text>
<text transform="translate(780.11 481.3) rotate(0.03) scale(1.133 1)" font-size="31" font-family="'Liberation Serif', serif" font-style="italic" fill="#000" stroke="#fff" stroke-width="0.07">E</text>
<text transform="translate(800.7 486.3) rotate(0.03) scale(1.060 1)" font-size="23.82" font-family="'Liberation Serif', serif" font-style="italic" fill="#000" stroke="#fff" stroke-width="0.08">M</text>
<text transform="translate(30.65 643.44) rotate(0.03) scale(0.944 1)" font-size="25.32" font-family="'DejaVu Serif', 'Liberation Serif', serif" font-style="italic" fill="#000" stroke="#fff" stroke-width="0.21">σ</text>
<text transform="translate(10.18 738.05) rotate(0.03) scale(0.928 1)" font-size="24.94" font-family="'DejaVu Serif', 'Liberation Serif', serif" font-style="italic" fill="#000" stroke="#fff" stroke-width="0.22">σ</text>
<text transform="translate(28.07 727.2) rotate(0.03) scale(1.158 1)" font-size="20.38" font-family="'Liberation Serif', serif" font-style="italic" fill="#000" stroke="#fff" stroke-width="0.07">cr</text>
<text transform="translate(28.54 747.19) rotate(0.03) scale(1.220 1)" font-size="20.72" font-family="'Liberation Serif', serif" font-style="italic" fill="#000" stroke="#fff" stroke-width="0.07">f</text>
<text transform="translate(10.18 789.35) rotate(0.03) scale(0.928 1)" font-size="24.94" font-family="'DejaVu Serif', 'Liberation Serif', serif" font-style="italic" fill="#000" stroke="#fff" stroke-width="0.22">σ</text>
<text transform="translate(28.07 778.5) rotate(0.03) scale(1.158 1)" font-size="20.38" font-family="'Liberation Serif', serif" font-style="italic" fill="#000" stroke="#fff" stroke-width="0.07">cr</text>
<text transform="translate(27.88 796.81) rotate(0.03) scale(1.220 1)" font-size="19.96" font-family="'Liberation Serif', serif" font-style="italic" fill="#000" stroke="#fff" stroke-width="0.07">s</text>
<text transform="translate(115.59 857.6) rotate(0.03) scale(1.034 1)" font-size="31.92" font-family="'Liberation Serif', serif" font-style="italic" fill="#000" stroke="#fff" stroke-width="0.08">M</text>
<text transform="translate(142.59 863.59) rotate(0.03) scale(1.220 1)" font-size="22.14" font-family="'Liberation Serif', serif" font-style="italic" fill="#000" stroke="#fff" stroke-width="0.07">f</text>
<text transform="translate(158.79 857.6) rotate(0.03) scale(1.034 1)" font-size="31.92" font-family="'Liberation Serif', serif" font-style="italic" fill="#000" stroke="#fff" stroke-width="0.08">M</text>
<text transform="translate(185.18 862.88) rotate(0.03) scale(1.171 1)" font-size="22.66" font-family="'Liberation Serif', serif" font-style="italic" fill="#000" stroke="#fff" stroke-width="0.07">s</text>
<text transform="translate(197.41 857.6) rotate(0.03) scale(0.853 1)" font-size="32.42" font-family="'Liberation Serif', serif" font-style="italic" fill="#000" stroke="#fff" stroke-width="0.09">A</text>
<text transform="translate(215.29 862.88) rotate(0.03) scale(1.120 1)" font-size="22.66" font-family="'Liberation Serif', serif" font-style="italic" fill="#000" stroke="#fff" stroke-width="0.07">s</text>
<text transform="translate(247.7 857.6) rotate(0.03) scale(0.904 1)" font-size="32.42" font-family="'Liberation Serif', serif" font-style="italic" fill="#000" stroke="#fff" stroke-width="0.09">A</text>
<text transform="translate(267.99 863.59) rotate(0.03) scale(1.220 1)" font-size="22.14" font-family="'Liberation Serif', serif" font-style="italic" fill="#000" stroke="#fff" stroke-width="0.07">f</text>
<text transform="translate(365.61 845.15) rotate(0.03) scale(1.154 1)" font-size="31.69" font-family="'Liberation Serif', serif" font-style="italic" fill="#000" stroke="#fff" stroke-width="0.07">T</text>
<text transform="translate(436.17 640.84) rotate(0.03) scale(0.933 1)" font-size="25.13" font-family="'DejaVu Serif', 'Liberation Serif', serif" font-style="italic" fill="#000" stroke="#fff" stroke-width="0.21">σ</text>
<text transform="translate(793.38 852.63) rotate(0.03) scale(0.861 1)" font-size="28.07" font-family="'Liberation Serif', serif" font-style="italic" fill="#000" stroke="#fff" stroke-width="0.09">ϵ</text>
<text transform="translate(931.85 49.44) rotate(0.03) scale(0.944 1)" font-size="25.32" font-family="'DejaVu Serif', 'Liberation Serif', serif" font-style="italic" fill="#000" stroke="#fff" stroke-width="0.21">σ</text>
<text transform="translate(911.38 144.05) rotate(0.03) scale(0.928 1)" font-size="24.94" font-family="'DejaVu Serif', 'Liberation Serif', serif" font-style="italic" fill="#000" stroke="#fff" stroke-width="0.22">σ</text>
<text transform="translate(929.27 133.2) rotate(0.03) scale(1.158 1)" font-size="20.38" font-family="'Liberation Serif', serif" font-style="italic" fill="#000" stroke="#fff" stroke-width="0.07">cr</text>
<text transform="translate(929.74 153.19) rotate(0.03) scale(1.220 1)" font-size="20.72" font-family="'Liberation Serif', serif" font-style="italic" fill="#000" stroke="#fff" stroke-width="0.07">f</text>
<text transform="translate(911.38 195.35) rotate(0.03) scale(0.928 1)" font-size="24.94" font-family="'DejaVu Serif', 'Liberation Serif', serif" font-style="italic" fill="#000" stroke="#fff" stroke-width="0.22">σ</text>
<text transform="translate(929.27 184.5) rotate(0.03) scale(1.158 1)" font-size="20.38" font-family="'Liberation Serif', serif" font-style="italic" fill="#000" stroke="#fff" stroke-width="0.07">cr</text>
<text transform="translate(929.08 202.81) rotate(0.03) scale(1.220 1)" font-size="19.96" font-family="'Liberation Serif', serif" font-style="italic" fill="#000" stroke="#fff" stroke-width="0.07">s</text>
<text transform="translate(1016.79 263.6) rotate(0.03) scale(1.034 1)" font-size="31.92" font-family="'Liberation Serif', serif" font-style="italic" fill="#000" stroke="#fff" stroke-width="0.08">M</text>
<text transform="translate(1043.79 269.59) rotate(0.03) scale(1.220 1)" font-size="22.14" font-family="'Liberation Serif', serif" font-style="italic" fill="#000" stroke="#fff" stroke-width="0.07">f</text>
<text transform="translate(1059.99 263.6) rotate(0.03) scale(1.034 1)" font-size="31.92" font-family="'Liberation Serif', serif" font-style="italic" fill="#000" stroke="#fff" stroke-width="0.08">M</text>
<text transform="translate(1086.38 268.88) rotate(0.03) scale(1.171 1)" font-size="22.66" font-family="'Liberation Serif', serif" font-style="italic" fill="#000" stroke="#fff" stroke-width="0.07">s</text>
<text transform="translate(1098.61 263.6) rotate(0.03) scale(0.853 1)" font-size="32.42" font-family="'Liberation Serif', serif" font-style="italic" fill="#000" stroke="#fff" stroke-width="0.09">A</text>
<text transform="translate(1116.49 268.88) rotate(0.03) scale(1.120 1)" font-size="22.66" font-family="'Liberation Serif', serif" font-style="italic" fill="#000" stroke="#fff" stroke-width="0.07">s</text>
<text transform="translate(1148.9 263.6) rotate(0.03) scale(0.904 1)" font-size="32.42" font-family="'Liberation Serif', serif" font-style="italic" fill="#000" stroke="#fff" stroke-width="0.09">A</text>
<text transform="translate(1169.19 269.59) rotate(0.03) scale(1.220 1)" font-size="22.14" font-family="'Liberation Serif', serif" font-style="italic" fill="#000" stroke="#fff" stroke-width="0.07">f</text>
<text transform="translate(1267.01 251.1) rotate(0.03) scale(1.145 1)" font-size="31.92" font-family="'Liberation Serif', serif" font-style="italic" fill="#000" stroke="#fff" stroke-width="0.07">T</text>
<text transform="translate(1336.96 46.04) rotate(0.03) scale(0.925 1)" font-size="25.51" font-family="'DejaVu Serif', 'Liberation Serif', serif" font-style="italic" fill="#000" stroke="#fff" stroke-width="0.22">σ</text>
<text transform="translate(1692.34 259.73) rotate(0.03) scale(0.921 1)" font-size="27.86" font-family="'Liberation Serif', serif" font-style="italic" fill="#000" stroke="#fff" stroke-width="0.09">ϵ</text>
<text transform="translate(1388.41 187.8) rotate(0.03) scale(1.139 1)" font-size="30.7" font-family="'Liberation Serif', serif" font-style="italic" fill="#000" stroke="#fff" stroke-width="0.07">E</text>
<text transform="translate(1410.43 192.6) rotate(0.03) scale(0.943 1)" font-size="23.78" font-family="'Liberation Serif', serif" font-style="italic" fill="#000" stroke="#fff" stroke-width="0.08">A</text>
<text transform="translate(931.85 343.84) rotate(0.03) scale(0.944 1)" font-size="25.32" font-family="'DejaVu Serif', 'Liberation Serif', serif" font-style="italic" fill="#000" stroke="#fff" stroke-width="0.21">σ</text>
<text transform="translate(911.38 438.45) rotate(0.03) scale(0.928 1)" font-size="24.94" font-family="'DejaVu Serif', 'Liberation Serif', serif" font-style="italic" fill="#000" stroke="#fff" stroke-width="0.22">σ</text>
<text transform="translate(929.27 427.6) rotate(0.03) scale(1.158 1)" font-size="20.38" font-family="'Liberation Serif', serif" font-style="italic" fill="#000" stroke="#fff" stroke-width="0.07">cr</text>
<text transform="translate(929.74 447.59) rotate(0.03) scale(1.220 1)" font-size="20.72" font-family="'Liberation Serif', serif" font-style="italic" fill="#000" stroke="#fff" stroke-width="0.07">f</text>
<text transform="translate(911.38 489.75) rotate(0.03) scale(0.928 1)" font-size="24.94" font-family="'DejaVu Serif', 'Liberation Serif', serif" font-style="italic" fill="#000" stroke="#fff" stroke-width="0.22">σ</text>
<text transform="translate(929.27 478.9) rotate(0.03) scale(1.158 1)" font-size="20.38" font-family="'Liberation Serif', serif" font-style="italic" fill="#000" stroke="#fff" stroke-width="0.07">cr</text>
<text transform="translate(929.08 497.21) rotate(0.03) scale(1.220 1)" font-size="19.96" font-family="'Liberation Serif', serif" font-style="italic" fill="#000" stroke="#fff" stroke-width="0.07">s</text>
<text transform="translate(1016.79 558) rotate(0.03) scale(1.034 1)" font-size="31.92" font-family="'Liberation Serif', serif" font-style="italic" fill="#000" stroke="#fff" stroke-width="0.08">M</text>
<text transform="translate(1043.79 563.99) rotate(0.03) scale(1.220 1)" font-size="22.14" font-family="'Liberation Serif', serif" font-style="italic" fill="#000" stroke="#fff" stroke-width="0.07">f</text>
<text transform="translate(1059.99 558) rotate(0.03) scale(1.034 1)" font-size="31.92" font-family="'Liberation Serif', serif" font-style="italic" fill="#000" stroke="#fff" stroke-width="0.08">M</text>
<text transform="translate(1086.38 563.28) rotate(0.03) scale(1.171 1)" font-size="22.66" font-family="'Liberation Serif', serif" font-style="italic" fill="#000" stroke="#fff" stroke-width="0.07">s</text>
<text transform="translate(1098.61 558) rotate(0.03) scale(0.853 1)" font-size="32.42" font-family="'Liberation Serif', serif" font-style="italic" fill="#000" stroke="#fff" stroke-width="0.09">A</text>
<text transform="translate(1116.49 563.28) rotate(0.03) scale(1.120 1)" font-size="22.66" font-family="'Liberation Serif', serif" font-style="italic" fill="#000" stroke="#fff" stroke-width="0.07">s</text>
<text transform="translate(1148.9 558) rotate(0.03) scale(0.904 1)" font-size="32.42" font-family="'Liberation Serif', serif" font-style="italic" fill="#000" stroke="#fff" stroke-width="0.09">A</text>
<text transform="translate(1169.19 563.99) rotate(0.03) scale(1.220 1)" font-size="22.14" font-family="'Liberation Serif', serif" font-style="italic" fill="#000" stroke="#fff" stroke-width="0.07">f</text>
<text transform="translate(1267 545.25) rotate(0.03) scale(1.194 1)" font-size="30.77" font-family="'Liberation Serif', serif" font-style="italic" fill="#000" stroke="#fff" stroke-width="0.07">T</text>
<text transform="translate(1336.75 340.14) rotate(0.03) scale(0.951 1)" font-size="25.13" font-family="'DejaVu Serif', 'Liberation Serif', serif" font-style="italic" fill="#000" stroke="#fff" stroke-width="0.21">σ</text>
<text transform="translate(1692.48 553.63) rotate(0.03) scale(0.881 1)" font-size="27.45" font-family="'Liberation Serif', serif" font-style="italic" fill="#000" stroke="#fff" stroke-width="0.09">ϵ</text>
<text transform="translate(1647.2 379.2) rotate(0.03) scale(1.080 1)" font-size="31.77" font-family="'Liberation Serif', serif" font-style="italic" fill="#000" stroke="#fff" stroke-width="0.07">E</text>
<text transform="translate(1667.89 384) rotate(0.03) scale(1.042 1)" font-size="24.13" font-family="'Liberation Serif', serif" font-style="italic" fill="#000" stroke="#fff" stroke-width="0.08">M</text>
<text transform="translate(-1.11 29.7) rotate(0.03) scale(1.036 1)" font-size="43.17" font-family="'Liberation Sans', sans-serif" font-weight="bold" fill="#000">A</text>
<text transform="translate(0.2 315.85) rotate(0.03) scale(0.964 1)" font-size="43.39" font-family="'Liberation Sans', sans-serif" font-weight="bold" fill="#000">B</text>
<text transform="translate(0.04 606.38) rotate(0.03) scale(0.941 1)" font-size="43.08" font-family="'Liberation Sans', sans-serif" font-weight="bold" fill="#000">C</text>
<text transform="translate(868.4 29.95) rotate(0.03) scale(0.972 1)" font-size="43.1" font-family="'Liberation Sans', sans-serif" font-weight="bold" fill="#000">D</text>
<text transform="translate(885.27 297.7) rotate(0.03) scale(0.942 1)" font-size="43.31" font-family="'Liberation Sans', sans-serif" font-weight="bold" fill="#000">E</text>
</g>
</svg>
</body></html>
